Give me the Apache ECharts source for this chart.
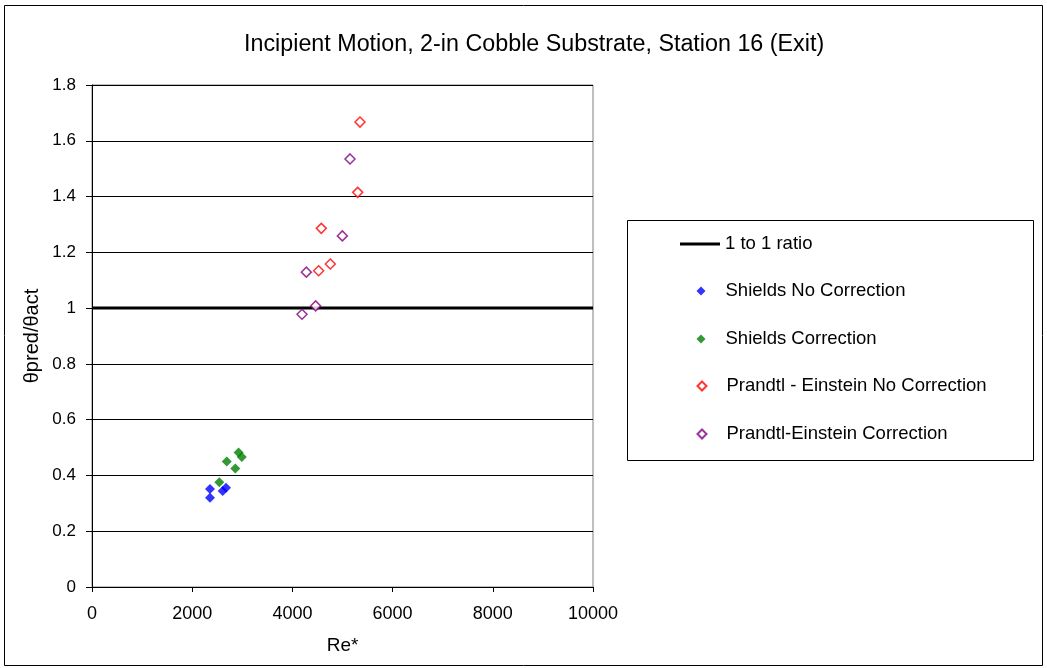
<!DOCTYPE html>
<html>
<head>
<meta charset="utf-8">
<script src="https://cdn.jsdelivr.net/npm/echarts@6/dist/echarts.min.js"></script>
<style>html,body{margin:0;padding:0;background:#fff}#c{width:1047px;height:668px}</style>
</head>
<body>
<div id="c"></div>
<script>
var titleText = 'Incipient Motion, 2-in Cobble Substrate, Station 16 (Exit)';
var xName = 'Re*';
var yName = 'θpred/θact';
var seriesNames = ['1 to 1 ratio', 'Shields No Correction', 'Shields Correction', 'Prandtl - Einstein No Correction', 'Prandtl-Einstein Correction'];

var ratioLine = [[0, 1], [10000, 1]];
var shieldsNoCorr = [[2355, 0.351], [2355, 0.320], [2609, 0.344], [2675, 0.356]];
var shieldsCorr = [[2541, 0.376], [2690, 0.450], [2860, 0.425], [2925, 0.482], [2990, 0.466]];
var peNoCorr = [[5349, 1.667], [5303, 1.415], [4577, 1.286], [4757, 1.158], [4524, 1.134]];
var peCorr = [[5150, 1.535], [4997, 1.259], [4278, 1.129], [4464, 1.008], [4192, 0.978]];

var FONT = 'Liberation Sans, Arial, sans-serif';
var chart = echarts.init(document.getElementById('c'));

var legendCenters = [244, 291, 339, 386, 434];
var legends = seriesNames.map(function (n, i) {
  var isLine = i === 0;
  return {
    data: [{ name: n, icon: isLine ? 'rect' : 'diamond' }],
    left: isLine ? 680 : 696.5,
    top: legendCenters[i] - 10,
    padding: 0,
    itemWidth: isLine ? 40 : 9,
    itemHeight: isLine ? 3 : 9,
    selectedMode: false,
    textStyle: { fontFamily: FONT, fontSize: 18.5, lineHeight: 20, color: '#000', padding: [0, 0, 0, isLine ? 0 : 15] }
  };
});

chart.setOption({
  animation: false,
  backgroundColor: '#fff',
  title: {
    text: titleText, left: 244, top: 33, padding: 0,
    textStyle: { fontFamily: FONT, fontSize: 23.3, fontWeight: 'normal', color: '#000' }
  },
  graphic: [
    { type: 'rect', shape: { x: 4.5, y: 5.5, width: 1038, height: 660 }, style: { fill: 'none', stroke: '#000', lineWidth: 1 } },
    { type: 'rect', shape: { x: 627.5, y: 220.5, width: 406, height: 240 }, style: { fill: 'none', stroke: '#000', lineWidth: 1 } }
  ],
  legend: legends,
  grid: { left: 92, top: 85, width: 501, height: 502, show: true, borderColor: '#808080', borderWidth: 1 },
  xAxis: {
    type: 'value', min: 0, max: 10000, interval: 2000,
    name: xName, nameLocation: 'middle', nameGap: 49,
    nameTextStyle: { fontFamily: FONT, fontSize: 19, color: '#000' },
    axisLine: { lineStyle: { color: '#000' } },
    axisTick: { inside: false, length: 5, lineStyle: { color: '#000' } },
    axisLabel: { fontFamily: FONT, fontSize: 18, color: '#000', margin: 18, formatter: function (v) { return String(v); } },
    splitLine: { show: false }
  },
  yAxis: {
    type: 'value', min: 0, max: 1.8, interval: 0.2,
    name: yName, nameLocation: 'middle', nameGap: 50,
    nameTextStyle: { fontFamily: FONT, fontSize: 20, color: '#000' },
    axisLine: { show: true, lineStyle: { color: '#000' } },
    axisTick: { show: true, inside: false, length: 6, lineStyle: { color: '#000' } },
    axisLabel: { fontFamily: FONT, fontSize: 17, color: '#000', margin: 16 },
    splitLine: { show: true, lineStyle: { color: '#000', width: 1 } }
  },
  series: [
    { name: seriesNames[0], type: 'line', data: ratioLine, symbol: 'none', lineStyle: { color: '#000', width: 3 }, itemStyle: { color: '#000' }, z: 3 },
    { name: seriesNames[1], type: 'scatter', data: shieldsNoCorr, symbol: 'diamond', symbolSize: 10, itemStyle: { color: '#0000ff' }, z: 4 },
    { name: seriesNames[2], type: 'scatter', data: shieldsCorr, symbol: 'diamond', symbolSize: 10, itemStyle: { color: '#008000' }, z: 5 },
    { name: seriesNames[3], type: 'scatter', data: peNoCorr, symbol: 'diamond', symbolSize: 10, itemStyle: { color: '#fff', borderColor: '#ff0000', borderWidth: 1.5 }, z: 6 },
    { name: seriesNames[4], type: 'scatter', data: peCorr, symbol: 'diamond', symbolSize: 10, itemStyle: { color: '#fff', borderColor: '#800080', borderWidth: 1.5 }, z: 7 }
  ]
});
</script>
</body>
</html>
